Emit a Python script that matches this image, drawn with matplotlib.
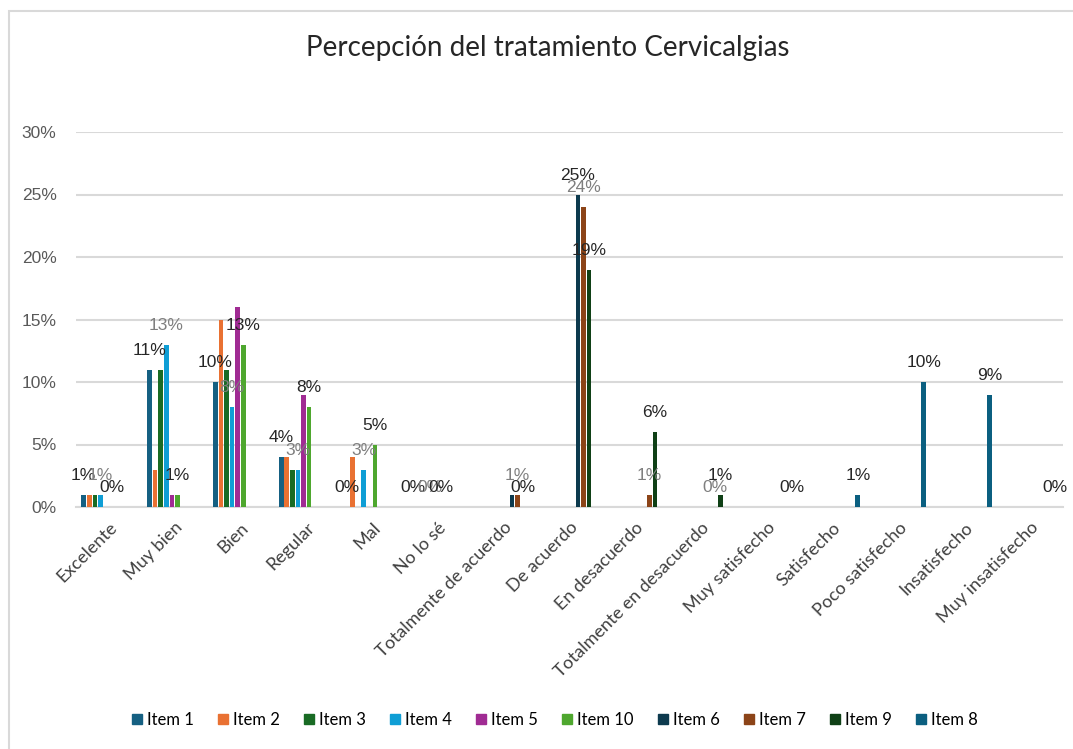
import numpy as np
import matplotlib.pyplot as plt
from matplotlib.lines import Line2D
from matplotlib.patches import Rectangle

nan = np.nan

categories = ["Excelente", "Muy bien", "Bien", "Regular", "Mal", "No lo sé",
              "Totalmente de acuerdo", "De acuerdo", "En desacuerdo",
              "Totalmente en desacuerdo", "Muy satisfecho", "Satisfecho",
              "Poco satisfecho", "Insatisfecho", "Muy insatisfecho"]

series = ["Item 1", "Item 2", "Item 3", "Item 4", "Item 5", "Item 10",
          "Item 6", "Item 7", "Item 9", "Item 8"]

# values in %, nan = no data for that category
item1 = [1, 11, 10, 4, 0, 0] + [nan] * 9
item2 = [1, 3, 15, 4, 4, 0] + [nan] * 9
item3 = [1, 11, 11, 3, 0, 0] + [nan] * 9
item4 = [1, 13, 8, 3, 3, 0] + [nan] * 9
item5 = [0, 1, 16, 9, 0, 0] + [nan] * 9
item10 = [0, 1, 13, 8, 5, 0] + [nan] * 9
item6 = [nan] * 6 + [1, 25, 0, 0] + [nan] * 5
item7 = [nan] * 6 + [1, 24, 1, 0] + [nan] * 5
item9 = [nan] * 6 + [0, 19, 6, 1] + [nan] * 5
item8 = [nan] * 10 + [0, 1, 10, 9, 0]

values = [item1, item2, item3, item4, item5, item10, item6, item7, item9, item8]

colors = ["#156082", "#E97132", "#196B24", "#0F9ED5", "#A02B93", "#4EA72E",
          "#0D3A4E", "#8C4418", "#0F4016", "#0B5F80"]

# which series carry data labels, and in which categories
label_cats = {
    "Item 1": range(0, 6),
    "Item 4": range(0, 6),
    "Item 10": range(0, 6),
    "Item 6": [7],
    "Item 7": [6, 7, 8, 9],
    "Item 9": [6, 7, 8, 9],
    "Item 8": range(10, 15),
}
gray_labels = {"Item 4", "Item 7"}

fig = plt.figure(figsize=(10.73, 7.49), dpi=100)
fig.patches.append(Rectangle((9 / 1073, -0.1), 1.2, 1 - 11 / 749 + 0.1,
                             transform=fig.transFigure, fill=False,
                             edgecolor="#d9d9d9", linewidth=1.5))
ax = fig.add_axes([76 / 1073, 1 - 507 / 749, 987 / 1073, 375 / 749])

x = np.arange(len(categories))
slot = 0.085
bw = 0.072
for i, (name, vals, c) in enumerate(zip(series, values, colors)):
    xs = x + (i - 4.5) * slot
    v = np.array(vals, dtype=float) / 100
    ax.bar(xs, v, width=bw, color=c, label=name, zorder=3)
    for j in label_cats.get(name, []):
        if np.isnan(v[j]):
            continue
        ax.annotate(f"{vals[j]:.0f}%", (xs[j], v[j]), xytext=(0, 14),
                    textcoords="offset points", ha="center", va="center",
                    fontsize=12.5, family="Liberation Sans",
                    color="#7f7f7f" if name in gray_labels else "#262626",
                    zorder=4)

ax.set_xlim(-0.5, len(categories) - 0.5)
ax.set_ylim(0, 0.30)
ax.set_yticks(np.arange(0, 0.31, 0.05))
ax.set_yticklabels([f"{int(round(t * 100))}%" for t in np.arange(0, 0.31, 0.05)],
                   fontsize=12.5, color="#595959", family="Liberation Sans")
ax.set_xticks(x)
ax.set_xticklabels(categories, rotation=45, ha="right", va="top",
                   rotation_mode="anchor", fontsize=13, color="#404040",
                   family="Lato")
ax.tick_params(axis="both", length=0)
ax.tick_params(axis="y", pad=14)
ax.tick_params(axis="x", pad=9)
ax.grid(axis="y", color="#d9d9d9", linewidth=1.5, zorder=0)
for s in ["top", "right", "left"]:
    ax.spines[s].set_visible(False)
ax.spines["bottom"].set_color("#d9d9d9")
ax.spines["bottom"].set_linewidth(1.5)

fig.text(548 / 1073, 1 - 48 / 749, "Percepción del tratamiento Cervicalgias",
         ha="center", va="center", fontsize=20, color="#262626", family="Lato")

handles = [Line2D([], [], marker="s", linestyle="none", markersize=7.5,
                  markerfacecolor=c, markeredgecolor=c) for c in colors]
fig.legend(handles, series, loc="center", bbox_to_anchor=(553 / 1073, 1 - 720 / 749),
           ncol=10, frameon=False, handletextpad=0.1,
           columnspacing=1.25, handlelength=1.0, prop={"family": "Lato", "size": 12})

fig.savefig("out.png", dpi=100)
